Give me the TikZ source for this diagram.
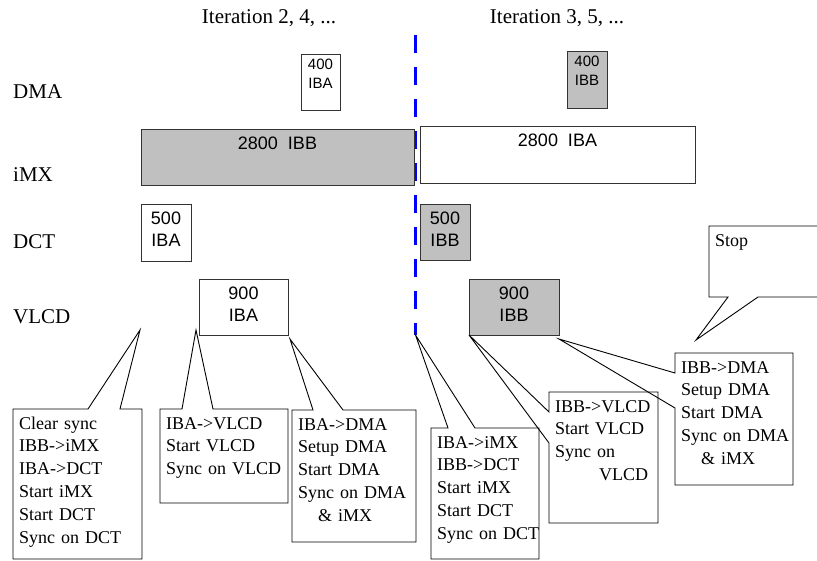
\documentclass[tikz,border=0pt]{standalone}
\usepackage{fontspec}
\setmainfont{Liberation Serif}
\setsansfont{Liberation Sans}

\definecolor{boxgray}{RGB}{192,192,192}
\tikzset{
    lane/.style={font=\fontsize{21}{25}\selectfont, anchor=base west, inner sep=0pt},
    iter/.style={font=\fontsize{21}{25}\selectfont, anchor=base, inner sep=0pt},
    slot/.style={draw=black!80, line width=1pt, inner sep=0pt, outer sep=0pt, anchor=north west},
    busy/.style={slot, fill=boxgray},
    numbig/.style={label={[font=\sffamily\fontsize{18}{22}\selectfont, align=center, inner sep=0pt, anchor=north, yshift=-8pt]north:{#1}}},
    numsmall/.style={label={[font=\sffamily\fontsize{15}{19}\selectfont, align=center, inner sep=0pt, anchor=north, yshift=-5pt]north:{#1}}},
    callnote/.style={inner sep=0pt, outer sep=0pt, anchor=north west,
        label={[font=\fontsize{18}{22.8}\selectfont, align=left, text width=130pt, inner sep=0pt, anchor=base west, xshift=6pt, yshift=-20pt]north west:{#1}}},
    callline/.style={draw=black, line width=0.9pt, line join=miter},
}

\begin{document}
\begin{tikzpicture}[x=1pt, y=-1pt]
    \useasboundingbox (0,0) rectangle (817,560);
    \clip (0,0) rectangle (817,560);

    % headings and lanes
    \node[iter] (itA) at (269,23) {Iteration 2, 4, ...};
    \node[iter] (itB) at (557,23) {Iteration 3, 5, ...};
    \foreach \name/\y in {DMA/98, iMX/181, DCT/248, VLCD/323}
        \node[lane] (\name) at (13,\y) {\name};

    % iteration boundary
    \coordinate (cut) at (415.5,335);
    \draw[blue, line width=3pt, dash pattern=on 18pt off 14pt] (415.5,35) -- (cut);

    % work slots
    \node[slot, numsmall={400\\IBA}, minimum width=39, minimum height=56] (dmaA) at (301,54) {};
    \node[busy, numsmall={400\\IBB}, minimum width=40, minimum height=57] (dmaB) at (567,51) {};
    \node[busy, numbig={2800\ \ IBB}, minimum width=273, minimum height=56] (imxA) at (141,129) {};
    \node[slot, numbig={2800\ \ IBA}, minimum width=275, minimum height=57] (imxB) at (420,126) {};
    \node[slot, numbig={500\\IBA}, minimum width=50, minimum height=57] (dctA) at (141,204) {};
    \node[busy, numbig={500\\IBB}, minimum width=50, minimum height=56] (dctB) at (420,204) {};
    \node[slot, numbig={900\\IBA}, minimum width=89, minimum height=56] (vlA) at (199,279) {};
    \node[busy, numbig={900\\IBB}, minimum width=90, minimum height=56] (vlB) at (469,279) {};

    % callouts
    \coordinate (t1) at (140,330);
    \coordinate (t7) at (696,340);
    \node[callnote={Clear sync\\IBB->iMX\\IBA->DCT\\Start iMX\\Start DCT\\Sync on DCT}, minimum width=129, minimum height=150] (c1) at (13,409) {};
    \node[callnote={IBA->VLCD\\Start VLCD\\Sync on VLCD}, minimum width=128, minimum height=94] (c2) at (160,409) {};
    \node[callnote={IBA->DMA\\Setup DMA\\Start DMA\\Sync on DMA\\\hspace*{20pt}\& iMX}, minimum width=124, minimum height=132] (c3) at (292,410) {};
    \node[callnote={IBA->iMX\\IBB->DCT\\Start iMX\\Start DCT\\Sync on DCT}, minimum width=108, minimum height=131] (c4) at (431,428) {};
    \node[callnote={IBB->VLCD\\Start VLCD\\Sync on\\\hspace*{44pt}VLCD}, minimum width=109, minimum height=131] (c5) at (549,392) {};
    \node[callnote={IBB->DMA\\Setup DMA\\Start DMA\\Sync on DMA\\\hspace*{20pt}\& iMX}, minimum width=118, minimum height=132] (c6) at (675,353) {};
    \node[callnote={Stop}, minimum width=116, minimum height=71] (stop) at (709,226) {};

    \draw[callline] (c1.north west) -- ([xshift=75pt]c1.north west) -- (t1) -- ([xshift=107pt]c1.north west) -- (c1.north east) -- (c1.south east) -- (c1.south west) -- cycle;
    \draw[callline] (c2.north west) -- ([xshift=22pt]c2.north west) -- ([xshift=-3pt,yshift=5pt]vlA.south west) -- ([xshift=53pt]c2.north west) -- (c2.north east) -- (c2.south east) -- (c2.south west) -- cycle;
    \draw[callline] (c3.north west) -- ([xshift=21pt]c3.north west) -- ([xshift=2pt,yshift=-4pt]vlA.south east) -- ([xshift=51pt]c3.north west) -- (c3.north east) -- (c3.south east) -- (c3.south west) -- cycle;
    \draw[callline] (c4.north west) -- ([xshift=17pt]c4.north west) -- (cut) -- ([xshift=44pt]c4.north west) -- (c4.north east) -- (c4.south east) -- (c4.south west) -- cycle;
    \draw[callline] (c5.north west) -- ([yshift=-20pt]c5.north west) -- (vlB.south west) -- ([yshift=-51pt]c5.north west) -- (c5.south west) -- (c5.south east) -- (c5.north east) -- cycle;
    \draw[callline] (c6.north west) -- ([yshift=-20pt]c6.north west) -- ([yshift=-4pt]vlB.south east) -- ([yshift=-55pt]c6.north west) -- (c6.south west) -- (c6.south east) -- (c6.north east) -- cycle;
    \draw[callline] (stop.south west) -- (stop.north west) -- (stop.north east) -- (stop.south east) -- ([xshift=49pt]stop.south west) -- (t7) -- ([xshift=19pt]stop.south west) -- cycle;
\end{tikzpicture}
\end{document}
